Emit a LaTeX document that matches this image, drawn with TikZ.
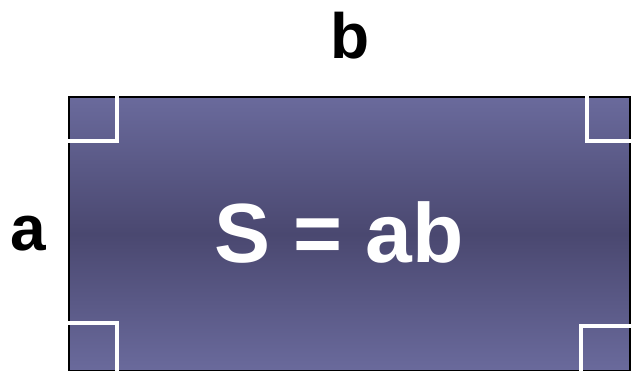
\documentclass[tikz,border=0pt]{standalone}
\usepackage{fontspec}
\setmainfont{Liberation Sans}
\usetikzlibrary{positioning}
\definecolor{slate}{HTML}{6A6A9C}
\definecolor{slatedark}{HTML}{4A4870}

\begin{document}
\begin{tikzpicture}[x=1pt,y=-1pt,area/.style={draw=black,line width=1.5pt,top color=slate,bottom color=slate,middle color=slatedark,minimum width=561pt,minimum height=274pt,inner sep=0pt,outer sep=0pt},side/.style={font=\fontsize{64}{64}\selectfont\bfseries,anchor=base,inner sep=0pt},corner/.style={draw=white,line width=4pt,shorten <=-2pt,shorten >=-2pt}]
\useasboundingbox (0,0) rectangle (631,371);
\node[area] (rect) at (349.5,234) {};
\node[side,text=white,font=\fontsize{84}{84}\selectfont\bfseries] (formula) at (339,262) {S = ab};
\node[side] (width) at (350,59) {b};
\node[side] (height) at (28,251) {a};
\draw[corner] ([xshift=48pt]rect.north west) |- ([yshift=-44pt]rect.north west);
\draw[corner] ([xshift=-43pt]rect.north east) |- ([yshift=-44pt]rect.north east);
\draw[corner] ([xshift=48pt]rect.south west) |- ([yshift=48pt]rect.south west);
\draw[corner] ([xshift=-49pt]rect.south east) |- ([yshift=45pt]rect.south east);
\end{tikzpicture}
\end{document}
